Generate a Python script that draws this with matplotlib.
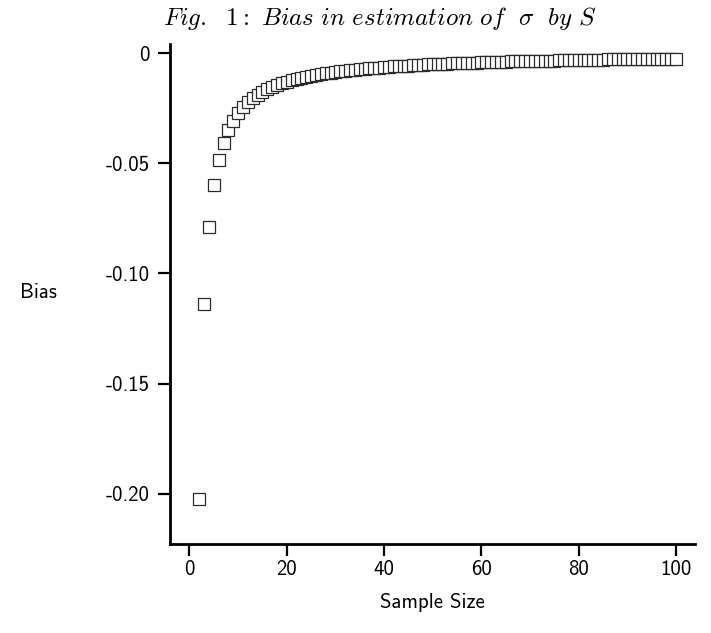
import matplotlib
matplotlib.use("Agg")
import matplotlib.pyplot as plt
from matplotlib.ticker import FixedLocator, FixedFormatter

plt.rcParams['mathtext.fontset'] = 'cm'
plt.rcParams['axes.unicode_minus'] = False

sample_size = list(range(2, 101))
bias = [
    -0.2021, -0.1138, -0.0787, -0.0600, -0.0485, -0.0406, -0.0350, -0.0307,
    -0.0273, -0.0247, -0.0224, -0.0206, -0.0190, -0.0177, -0.0165, -0.0155,
    -0.0146, -0.0138, -0.0131, -0.0124, -0.0118, -0.0113, -0.0108, -0.0104,
    -0.0099, -0.0096, -0.0092, -0.0089, -0.0086, -0.0083, -0.0080, -0.0078,
    -0.0075, -0.0073, -0.0071, -0.0069, -0.0067, -0.0066, -0.0064, -0.0062,
    -0.0061, -0.0059, -0.0058, -0.0057, -0.0055, -0.0054, -0.0053, -0.0052,
    -0.0051, -0.0050, -0.0049, -0.0048, -0.0047, -0.0046, -0.0045, -0.0045,
    -0.0044, -0.0043, -0.0042, -0.0042, -0.0041, -0.0040, -0.0040, -0.0039,
    -0.0038, -0.0038, -0.0037, -0.0037, -0.0036, -0.0036, -0.0035, -0.0035,
    -0.0034, -0.0034, -0.0033, -0.0033, -0.0032, -0.0032, -0.0032, -0.0031,
    -0.0031, -0.0030, -0.0030, -0.0030, -0.0029, -0.0029, -0.0029, -0.0028,
    -0.0028, -0.0028, -0.0027, -0.0027, -0.0027, -0.0027, -0.0026, -0.0026,
    -0.0026, -0.0025, -0.0025,
]
x_ticks = [0, 20, 40, 60, 80, 100]
x_tick_labels = ["0", "20", "40", "60", "80", "100"]
y_ticks = [0, -0.05, -0.10, -0.15, -0.20]
y_tick_labels = ["0", "-0.05", "-0.10", "-0.15", "-0.20"]

title = r"$\mathit{Fig.\ \ 1{:}\ Bias\ in\ estimation\ of}\ \ \sigma\ \ \mathit{by}\ S$"

fig = plt.figure(figsize=(7.11, 6.33), dpi=100)
ax = fig.add_axes([0.2391, 0.1406, 0.7384, 0.7899])

ax.plot(sample_size, bias, linestyle='none', marker='s', markersize=8.7,
        markerfacecolor='white', markeredgecolor='#2a2a2a', markeredgewidth=0.9)

ax.set_xlim(-4.0, 103.9)
ax.set_ylim(-0.2227, 0.0041)

ax.xaxis.set_major_locator(FixedLocator(x_ticks))
ax.xaxis.set_major_formatter(FixedFormatter(x_tick_labels))
ax.yaxis.set_major_locator(FixedLocator(y_ticks))
ax.yaxis.set_major_formatter(FixedFormatter(y_tick_labels))

for s in ['top', 'right']:
    ax.spines[s].set_visible(False)
for s in ['left', 'bottom']:
    ax.spines[s].set_linewidth(2.0)

sans = 'cmss10'
ax.tick_params(axis='both', direction='out', length=8.5, width=1.6,
               labelsize=15, color='black')
ax.tick_params(axis='x', pad=3)
ax.tick_params(axis='y', pad=6)
for lab in ax.get_xticklabels() + ax.get_yticklabels():
    lab.set_family(sans)

fig.text(38 / 711, 1 - 292 / 633, "Bias", family=sans, fontsize=15,
         ha='center', va='center')
fig.text(432 / 711, 1 - 603 / 633, "Sample Size", family=sans, fontsize=15,
         ha='center', va='center')
fig.text(380 / 711, 1 - 18 / 633, title, fontsize=18, ha='center', va='center')

fig.savefig("out.png", dpi=100)
